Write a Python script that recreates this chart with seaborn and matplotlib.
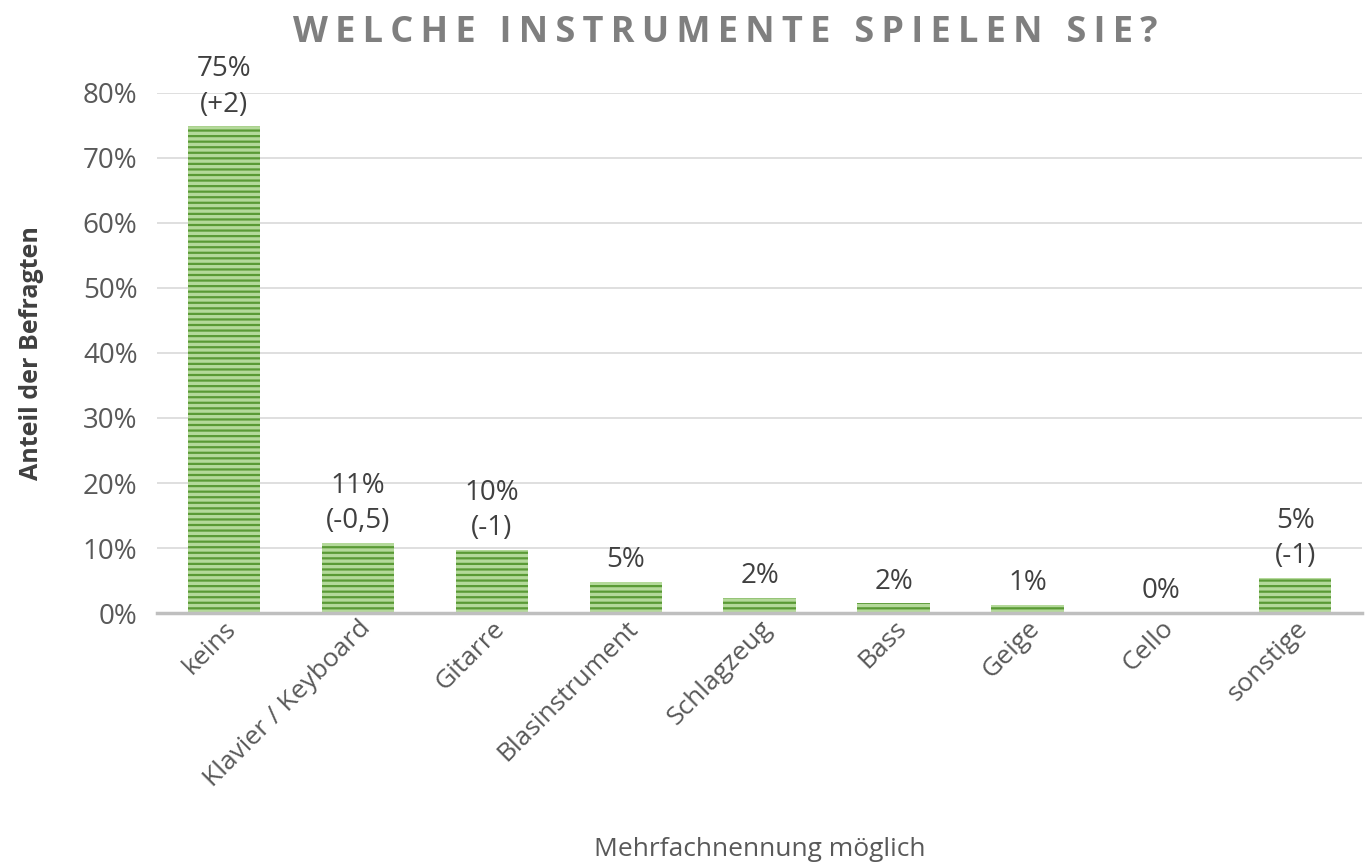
import numpy as np
import pandas as pd
import seaborn as sns
import matplotlib.pyplot as plt
from matplotlib.ticker import PercentFormatter

# Data
instrumente = ['keins', 'Klavier / Keyboard', 'Gitarre', 'Blasinstrument',
               'Schlagzeug', 'Bass', 'Geige', 'Cello', 'sonstige']
anteil = [0.748, 0.108, 0.097, 0.048, 0.023, 0.015, 0.013, 0.0, 0.054]
beschriftung = ['75%\n(+2)', '11%\n(-0,5)', '10%\n(-1)', '5%', '2%', '2%',
                '1%', '0%', '5%\n(-1)']

df = pd.DataFrame({'instrument': instrumente, 'anteil': anteil})

sns.set_style('white')
plt.rcParams['font.family'] = ['Open Sans', 'DejaVu Sans']
plt.rcParams['hatch.linewidth'] = 1.6
plt.rcParams['hatch.color'] = '#5a9a35'

fig = plt.figure(figsize=(13.65, 8.66), dpi=100)
ax = fig.add_axes([0.115, 0.292, 0.883, 0.601])

sns.barplot(data=df, x='instrument', y='anteil', ax=ax, width=0.54,
            color='#b4d99a', saturation=1)
for bar in ax.patches:
    bar.set_hatch('---')
    bar.set_edgecolor('#5a9a35')
    bar.set_linewidth(0)

# Data labels
for i, (v, txt) in enumerate(zip(anteil, beschriftung)):
    ax.text(i, v + 0.012, txt, ha='center', va='bottom', fontsize=20,
            color='#404040', linespacing=1.35, clip_on=False)

ax.set_ylim(0, 0.8)
ax.set_yticks(np.arange(0, 0.81, 0.1))
ax.yaxis.set_major_formatter(PercentFormatter(1.0, decimals=0))
ax.set_xlim(-0.5, len(instrumente) - 0.5)
ax.grid(axis='y', color='#d9d9d9', linewidth=1.2)
ax.set_axisbelow(True)
for s in ['top', 'right', 'left']:
    ax.spines[s].set_visible(False)
ax.spines['bottom'].set_color('#bfbfbf')
ax.spines['bottom'].set_linewidth(2.5)

ax.tick_params(axis='y', labelsize=20, labelcolor='#595959', length=0, pad=14)
ax.tick_params(axis='x', labelsize=19, labelcolor='#595959', length=0, pad=2)
plt.setp(ax.get_xticklabels(), rotation=45, ha='right', rotation_mode='anchor')

ax.set_xlabel('Mehrfachnennung möglich', fontsize=19, color='#595959')
ax.set_ylabel('Anteil der Befragten', fontsize=18, fontweight='bold',
              color='#404040')
ax.xaxis.set_label_coords(0.5, -0.43)
ax.yaxis.set_label_coords(-0.094, 0.5)

titel = 'WELCHE INSTRUMENTE SPIELEN SIE?'
fig.text(0.531, 0.962, '\u2009'.join(titel), ha='center', va='center',
         fontsize=26, fontweight='bold', color='#7f7f7f',
         family=['Open Sans', 'DejaVu Sans'])

fig.savefig('out.png', dpi=100)
